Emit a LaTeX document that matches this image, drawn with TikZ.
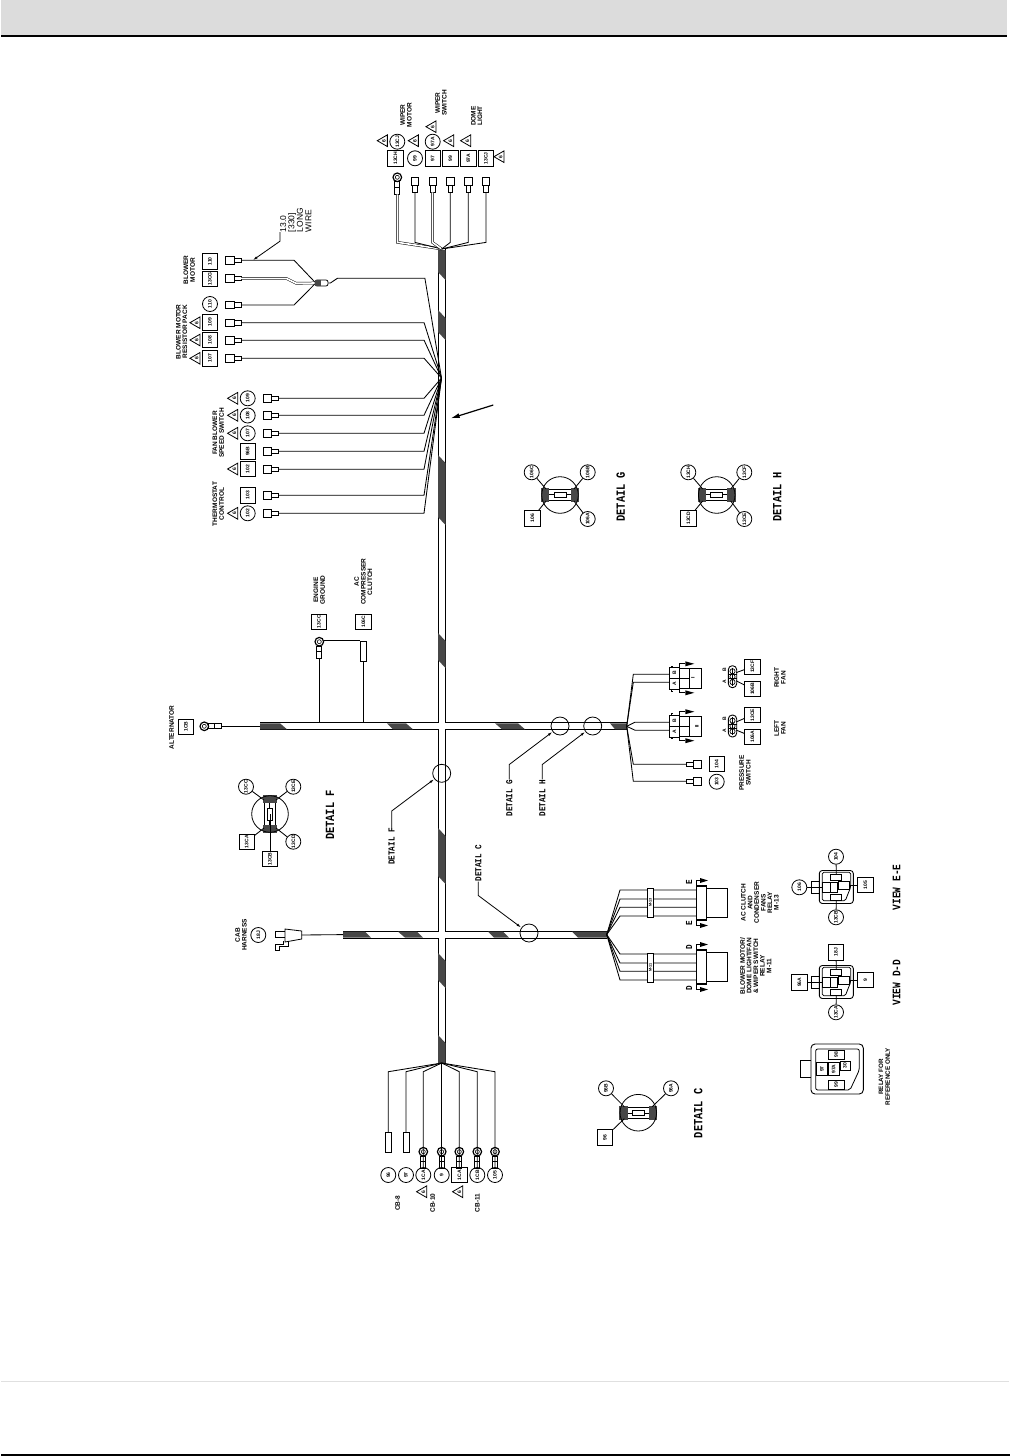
\documentclass[tikz,border=0pt]{standalone}
\usepackage{fontspec}
\usetikzlibrary{arrows.meta}
\usetikzlibrary{shapes.geometric}
\newfontfamily\cadfont{Liberation Sans}
\newfontfamily\detfam[FakeStretch=.83]{Liberation Mono}
\newcommand{\tagfont}{\cadfont\bfseries\fontsize{5}{5}\selectfont}
\newcommand{\lblfont}{\cadfont\bfseries\fontsize{6.5}{6.6}\selectfont}
\newcommand{\detfont}{\detfam\bfseries\fontsize{12.5}{12.5}\selectfont}
\newcommand{\leadfont}{\detfam\bfseries\fontsize{9.2}{9.2}\selectfont}
\newcommand{\viewfont}{\detfam\bfseries\fontsize{11.5}{11.5}\selectfont}
\definecolor{headgrey}{HTML}{DCDCDC}
\definecolor{footgrey}{HTML}{E0E0E0}
\tikzset{
    tag/.style={draw, rectangle, minimum size=15.5, inner sep=0, font=\tagfont, rotate=90, line width=.8},
    tagc/.style={draw, circle, minimum size=15, inner sep=0, font=\tagfont, rotate=90, line width=.8},
    warn/.style={draw, regular polygon, regular polygon sides=3, minimum size=13.5, inner sep=0, font=\cadfont\bfseries\fontsize{5}{5}\selectfont, rotate=90, line width=.8},
    lbl/.style={font=\lblfont, rotate=90, align=center, inner sep=0},
    detlbl/.style={font=\detfont, rotate=90, inner sep=0},
    leadlbl/.style={font=\leadfont, rotate=90, inner sep=0},
    tube/.style={draw, rectangle, minimum width=6, minimum height=20, inner sep=0, line width=.8},
    band/.style={draw, rectangle, minimum width=29, minimum height=6, inner sep=0, fill=white, font=\cadfont\bfseries\fontsize{3.8}{4}\selectfont, rotate=90, line width=.8},
    pinlbl/.style={font=\tagfont, rotate=90, inner sep=0},
    wire/.style={line width=.85},
    twinwire/.style={line width=.5, double, double distance=1.6},
    trunk/.style={line width=1, double, double distance=5.8},
    mesh/.style={fill=black!72},
    leader/.style={line width=.8, -{Latex[length=5pt,width=2.5pt]}},
    spade/.pic={
        \draw[line width=.8] (0,-3.6) rectangle (8.4,3.6);
        \draw[line width=.8] (8.4,-2.4) rectangle (15.4,2.4);
        \coordinate (-end) at (15.4,0);
    },
    ring/.pic={
        \draw[line width=1.2] (0,0) circle (4.3);
        \draw[line width=.6] (0,0) circle (2);
        \draw[line width=.8] (4.3,-2.5) rectangle (10,2.5);
        \draw[line width=.8] (10,-2.5) rectangle (17,2.5);
        \coordinate (-end) at (17,0);
    },
    core/.pic={
        \fill[mesh] (-19,-7) rectangle (-10.7,7);
        \fill[mesh] (10.7,-7) rectangle (19,7);
        \draw[line width=.8] (-10.7,-5.3) -- (10.7,-5.3);
        \draw[line width=.8] (-10.7,5.3) -- (10.7,5.3);
        \draw[line width=.5, double, double distance=1] (-10.7,0) -- (10.7,0);
        \draw[line width=1, fill=white] (-6,-2.6) rectangle (6,2.6);
        \coordinate (-c) at (0,0);
        \coordinate (-nw) at (-14,-6);
        \coordinate (-ne) at (14,-6);
        \coordinate (-sw) at (-14,6);
        \coordinate (-se) at (14,6);
    },
    fanplug/.pic={
        \draw[line width=.8] (0,-10.7) -- (10,-10.7) -- (10,10.7) -- (0,10.7) -- cycle;
        \draw[line width=.6] (1.5,-10.7) -- (1.5,-12.5) -- (3.5,-12.5) (1.5,10.7) -- (1.5,12.5) -- (3.5,12.5);
        \draw[line width=.8] (0,0) -- (20,0);
        \draw[line width=.8] (10,-10) rectangle (32.4,10);
        \draw[line width=.8] (20,-10) -- (20,10);
        \draw[line width=.8] (10,-10) -- (10,-14.5) -- (16,-14.5) (10,10) -- (10,14.5) -- (16,14.5);
        \fill (16,-17) -- (25,-14.5) -- (16,-12) -- cycle;
        \fill (16,17) -- (25,14.5) -- (16,12) -- cycle;
        \coordinate (-a) at (0,4);
        \coordinate (-b) at (0,-4);
    },
    fanpins/.pic={
        \draw[line width=.9, rounded corners=4] (-4.2,-11) rectangle (4.2,11);
        \draw[line width=.7] (0,-5.4) circle (2.6) (0,0) circle (2.6) (0,5.4) circle (2.6);
        \draw[line width=.6] (0,-9) -- (0,9) (-4,-2) -- (4,-2) (-4,2) -- (4,2);
        \coordinate (-up) at (3.5,-4);
        \coordinate (-dn) at (3.5,4);
    },
    relayplug/.pic={
        \draw[line width=.8] (0,-17) rectangle (10.7,17);
        \draw[line width=1.8] (0,-17) -- (10.7,-17) (0,17) -- (10.7,17);
        \draw[line width=.8] (10.7,-14.5) -- (31.3,-14.5) -- (31.3,14.5) -- (10.7,14.5);
        \draw[line width=.8] (0,-17) -- (0,-22.5) -- (4,-22.5) (0,17) -- (0,22.5) -- (4,22.5);
        \fill (4,-25) -- (12,-22.5) -- (4,-20) -- cycle;
        \fill (4,25) -- (12,22.5) -- (4,20) -- cycle;
        \coordinate (-w1) at (0,-13);
        \coordinate (-w2) at (0,-4);
        \coordinate (-w3) at (0,4.3);
        \coordinate (-w4) at (0,13);
    },
    relayview/.pic={
        \draw[line width=.9, rounded corners=3] (-17,-16.5) rectangle (17,16.5);
        \draw[line width=.8, rounded corners=1.5] (-14,-14.7) -- (14.4,-14.7) -- (14.4,0) -- (9,13.7) -- (-14,13.7) -- cycle;
        \draw[line width=.8] (-5.6,-12.7) rectangle (5.4,-7);
        \draw[line width=.8] (-13.6,-4.7) rectangle (-6.3,5.3);
        \draw[line width=.8] (-5.6,-4.7) rectangle (1,5.3);
        \draw[line width=.8] (2,-5.3) rectangle (12.7,2);
        \draw[line width=.8] (-5.6,7.3) rectangle (5.4,13);
        \draw[line width=.8] (-24.6,-5.3) rectangle (-17,6.3);
        \draw[line width=.8] (-24.6,.3) -- (-13.6,.3);
        \coordinate (-top) at (0,-12.7);
        \coordinate (-bot) at (0,13);
        \coordinate (-right) at (12.7,-2);
        \coordinate (-left) at (-24.6,.3);
    }
}
\begin{document}
\begin{tikzpicture}[x=1pt, y=-1pt]
        \useasboundingbox (0,0) rectangle (1010,1456);

        % page furniture
        \fill[headgrey] (1,0) rectangle (1007,35);
        \fill[black] (1,35) rectangle (1007,37.4);
        \fill[footgrey] (1,1380.8) rectangle (1009,1382);
        \fill[black] (1,1454) rectangle (1010,1456);

        % harness trunk and branches
        \coordinate (fan_top) at (441.7,249);
        \coordinate (fan_mid) at (441.5,378);
        \coordinate (fan_cb) at (441.7,1063);
        \coordinate (fan_right) at (626.7,726.3);
        \coordinate (fan_low) at (606.7,934.6);
        \coordinate (end_alt) at (260,726.3);
        \coordinate (end_cab) at (343,934.6);
        \draw[trunk] (fan_top) -- (fan_cb) (end_alt) -- (fan_right) (end_cab) -- (fan_low);

        \fill[mesh] (438,250) -- (445.5,250) -- (445.5,280) -- (438,272) -- cycle;
        \fill[mesh] (438,310) -- (445.5,318) -- (445.5,340) -- (438,332) -- cycle;
        \fill[mesh] (438,455) -- (445.5,463) -- (445.5,525) -- (438,517) -- cycle;
        \fill[mesh] (438,633) -- (445.5,641) -- (445.5,668) -- (438,660) -- cycle;
        \fill[mesh] (438,828) -- (445.5,836) -- (445.5,884) -- (438,876) -- cycle;
        \fill[mesh] (438,953) -- (445.5,961) -- (445.5,988) -- (438,980) -- cycle;
        \fill[mesh] (438,1035) -- (445.5,1043) -- (445.5,1063) -- (438,1063) -- cycle;

        \fill[mesh] (260,723.3) -- (280,723.3) -- (287,729.3) -- (260,729.3) -- cycle;
        \fill[mesh] (387,723.3) -- (406,723.3) -- (413,729.3) -- (393,729.3) -- cycle;
        \fill[mesh] (495,723.3) -- (518,723.3) -- (525,729.3) -- (502,729.3) -- cycle;
        \fill[mesh] (610,723.3) -- (627,723.3) -- (627,729.3) -- (615,729.3) -- cycle;
        \fill[mesh] (343,931.6) -- (365,931.6) -- (371,937.6) -- (343,937.6) -- cycle;
        \fill[mesh] (398,931.6) -- (417,931.6) -- (423,937.6) -- (405,937.6) -- cycle;
        \fill[mesh] (488,931.6) -- (503,931.6) -- (509,937.6) -- (494,937.6) -- cycle;
        \fill[mesh] (572,931.6) -- (607,931.6) -- (607,937.6) -- (578,937.6) -- cycle;

        % wiper and dome light
        \pic[rotate=-90] (t_13ch) at (397.3,177.3) {ring};
        \pic[rotate=-90] (t_99) at (415,177) {spade};
        \pic[rotate=-90] (t_97) at (432.5,177) {spade};
        \pic[rotate=-90] (t_99b) at (450.3,177) {spade};
        \pic[rotate=-90] (t_97a) at (468.3,177) {spade};
        \pic[rotate=-90] (t_13cj) at (486,177) {spade};
        \draw[twinwire] (t_13ch-end) -- ++(0,48) -- (fan_top);
        \draw[wire] (t_99-end) -- ++(0,50) -- (fan_top);
        \draw[twinwire] (t_97-end) -- ++(0,50) -- (fan_top);
        \draw[wire] (t_99b-end) -- ++(0,50) -- (fan_top);
        \draw[wire] (t_97a-end) -- ++(0,50) -- (fan_top);
        \draw[wire] (t_13cj-end) -- ++(0,50) -- (fan_top);

        \node[tag] (tag_13ch) at (395.3,158.3) {13CH};
        \node[tagc] (tag_99) at (415,158.3) {99};
        \node[tag] (tag_97) at (432.7,158.3) {97};
        \node[tag] (tag_99b) at (450.3,158.3) {99};
        \node[tag] (tag_97a) at (468.3,158.3) {97A};
        \node[tag] (tag_13cj) at (486,158.3) {13CJ};
        \node[tagc] (tag_13cjb) at (397.3,141.7) {13CJ};
        \node[tagc] (tag_97ab) at (432.7,141.7) {97A};
        \node[warn] (warn_1) at (384,140.7) {6};
        \node[warn] (warn_2) at (415,140.7) {6};
        \node[warn] (warn_3) at (432.7,126.7) {6};
        \node[warn] (warn_4) at (450.3,140.7) {6};
        \node[warn] (warn_5) at (467.3,140.7) {6};
        \node[warn] (warn_6) at (500.7,156.7) {6};
        \node[lbl] (lbl_wmotor) at (406,115) {WIPER\\MOTOR};
        \node[lbl] (lbl_wswitch) at (441,103) {WIPER\\SWITCH};
        \node[lbl] (lbl_dome) at (476.7,116) {DOME\\LIGHT};

        % blower motor
        \pic (t_110) at (225.7,260.3) {spade};
        \pic (t_13cg) at (225.7,278.3) {spade};
        \pic (t_110b) at (225.7,305) {spade};
        \pic (t_109) at (225.7,322.7) {spade};
        \pic (t_108) at (225.7,340.3) {spade};
        \pic (t_107) at (225.7,358.3) {spade};
        \node[draw, rectangle, minimum width=13, minimum height=6, inner sep=0, fill=white, rounded corners=2, line width=.8] (splice) at (321.5,283) {};
        \fill[mesh] (315,280) rectangle (321,286);
        \draw[wire] (t_110-end) -- ++(53,0) -- (splice.170);
        \draw[twinwire] (t_13cg-end) -- ++(45,0) -- ++(10,5) -- (splice.west);
        \draw[wire] (t_110b-end) -- ++(53,0) -- (splice.190);
        \draw[wire] (splice.east) -- ++(2,0) -- ++(7,-4.7) -- ++(87.5,0) -- (fan_mid);
        \draw[wire] (t_109-end) -- ++(183,0) -- (fan_mid);
        \draw[wire] (t_108-end) -- ++(183,0) -- (fan_mid);
        \draw[wire] (t_107-end) -- ++(183,0) -- (fan_mid);

        \node[tag] (tag_110) at (210,261.3) {110};
        \node[tag] (tag_13cg) at (210,279) {13CG};
        \node[tagc] (tag_110b) at (210,304) {110};
        \node[tag] (tag_109) at (210,322.3) {109};
        \node[tag] (tag_108) at (210,340) {108};
        \node[tag] (tag_107) at (210,358.3) {107};
        \node[warn] (warn_7) at (196.7,322.7) {6};
        \node[warn] (warn_8) at (196.7,340) {6};
        \node[warn] (warn_9) at (196.7,358.3) {6};
        \node[lbl] (lbl_blower) at (189.3,270) {BLOWER\\MOTOR};
        \node[lbl] (lbl_resistor) at (181.7,331.7) {BLOWER MOTOR\\RESISTOR PACK};

        \node[font=\cadfont\fontsize{8.5}{8.4}\selectfont, rotate=90, align=left, inner sep=0] (lbl_long) at (295.7,220) {13.0\\{[330]}\\LONG\\WIRE};
        \coordinate (long_tip) at (252.7,260.3);
        \draw[leader] (lbl_long.north west) -- ++(0,9) -- (long_tip);

        % fan blower switch and thermostat
        \pic (t_s109) at (263.3,398.3) {spade};
        \pic (t_s108) at (263.3,415.3) {spade};
        \pic (t_s107) at (263.3,433.3) {spade};
        \pic (t_s96b) at (263.3,451.3) {spade};
        \pic (t_s102) at (263.3,469.3) {spade};
        \pic (t_s103) at (263.3,495.3) {spade};
        \pic (t_s102b) at (263.3,513.3) {spade};
        \draw[wire] (t_s109-end) -- ++(145.3,0) -- (fan_mid);
        \draw[wire] (t_s108-end) -- ++(145.3,0) -- (fan_mid);
        \draw[wire] (t_s107-end) -- ++(145.3,0) -- (fan_mid);
        \draw[wire] (t_s96b-end) -- ++(145.3,0) -- (fan_mid);
        \draw[wire] (t_s102-end) -- ++(145.3,0) -- (fan_mid);
        \draw[wire] (t_s103-end) -- ++(145.3,0) -- (fan_mid);
        \draw[wire] (t_s102b-end) -- ++(145.3,0) -- (fan_mid);

        \node[tagc] (tag_s109) at (247.7,398.3) {109};
        \node[tagc] (tag_s108) at (247.7,415.5) {108};
        \node[tagc] (tag_s107) at (247.7,433.3) {107};
        \node[tag] (tag_s96b) at (247.7,451.3) {96B};
        \node[tag] (tag_s102) at (247.7,469) {102};
        \node[tag] (tag_s103) at (247.7,495.3) {103};
        \node[tagc] (tag_s102b) at (247.7,513.3) {102};
        \node[warn] (warn_10) at (234.3,398.3) {6};
        \node[warn] (warn_11) at (234.3,415.3) {6};
        \node[warn] (warn_12) at (234.3,433.3) {6};
        \node[warn] (warn_13) at (234.3,469) {6};
        \node[warn] (warn_14) at (234.3,513.3) {6};
        \node[lbl] (lbl_fan) at (218.3,433) {FAN BLOWER\\SPEED SWITCH};
        \node[lbl] (lbl_thermo) at (218.3,504) {THERMOSTAT\\CONTROL};

        \coordinate (ptr_tail) at (493.3,405);
        \coordinate (ptr_tip) at (450.7,418.3);
        \draw[-{Latex[length=9pt,width=5pt]}, line width=1.2] (ptr_tail) -- (ptr_tip);

        % engine ground, ac clutch, alternator
        \coordinate (top_edge) at (260,723.4);
        \pic[rotate=-90] (t_13cc) at (319.3,641.7) {ring};
        \node[tube] (tube_106c) at (363.3,651) {};
        \draw[wire] (t_13cc-end) -- (t_13cc-end |- top_edge);
        \draw[wire] (tube_106c.south) -- (tube_106c.south |- top_edge);
        \draw[line width=.5] (t_13cc-end |- tube_106c.north) ++(5,0) -- (tube_106c.north west);
        \node[tag] (tag_13cc) at (319,621.7) {13CC};
        \node[tag] (tag_106c) at (363.3,621.7) {106C};
        \node[lbl] (lbl_engine) at (319.3,590) {ENGINE\\GROUND};
        \node[lbl] (lbl_clutch) at (363.3,581.7) {AC\\COMPRESSER\\CLUTCH};

        \pic (t_1cb) at (204.3,726.3) {ring};
        \draw[wire] (t_1cb-end) -- (end_alt);
        \node[tag] (tag_1cb) at (186,726.7) {1CB};
        \node[lbl] (lbl_alt) at (171.7,727.3) {ALTERNATOR};

        % cab harness
        \coordinate (cab_end) at (301.7,935);
        \draw[line width=.8] (cab_end) ++(0,-4) -- ++(-16.7,-2) -- ++(0,13) -- ++(16.7,-3) -- cycle;
        \draw[line width=.8] (285,931.7) -- (275,931.7) -- (275,937.5) -- (285,937.5);
        \draw[line width=.8] (288,941) -- (288,946.5) -- (279,946.5) -- (279,950) -- (275,950) -- (275,944) -- (283,944) -- (283,941);
        \draw[wire] (cab_end) -- (end_cab);
        \node[tagc] (tag_18j) at (258.3,935) {18J};
        \node[lbl] (lbl_cab) at (241,935) {CAB\\HARNESS};

        % detail f
        \pic[rotate=90] (core_f) at (270,814) {core};
        \draw[line width=.8] (270,814) circle (18.3);
        \node[tagc] (tag_13cc_f) at (246,786.7) {13CC};
        \node[tagc] (tag_13ce_f) at (293.3,786.7) {13CE};
        \node[tag] (tag_13ca_f) at (246.7,841.7) {13CA};
        \node[tagc] (tag_13cd_f) at (293.3,841.7) {13CD};
        \node[tag] (tag_13cb_f) at (270,859) {13CB};
        \draw[wire] (tag_13cc_f) -- (core_f-ne);
        \draw[wire] (tag_13ce_f) -- (core_f-se);
        \draw[wire] (tag_13ca_f) -- (core_f-nw);
        \draw[wire] (tag_13cd_f) -- (core_f-sw);
        \draw[wire] (tag_13cb_f) -- (core_f-c);
        \node[detlbl] (lbl_det_f) at (330,815) {DETAIL F};

        % detail g and h
        \pic (core_g) at (560,495) {core};
        \draw[line width=.8] (560,495) circle (18.3);
        \node[tagc] (tag_106c_g) at (531.7,472.3) {106C};
        \node[tagc] (tag_106b_g) at (587.7,472.3) {106B};
        \node[tag] (tag_106_g) at (532.3,518.3) {106};
        \node[tagc] (tag_106a_g) at (587.7,519) {106A};
        \draw[wire] (tag_106c_g) -- (core_g-nw);
        \draw[wire] (tag_106b_g) -- (core_g-ne);
        \draw[wire] (tag_106_g) -- (core_g-sw);
        \draw[wire] (tag_106a_g) -- (core_g-se);
        \node[detlbl] (lbl_det_g) at (620.7,496.7) {DETAIL G};

        \pic (core_h) at (716.7,495) {core};
        \draw[line width=.8] (716.7,495) circle (18.3);
        \node[tagc] (tag_13ch_h) at (688.3,472.3) {13CH};
        \node[tagc] (tag_13cf_h) at (744.3,472.3) {13CF};
        \node[tag] (tag_13cd_h) at (688.3,518.3) {13CD};
        \node[tagc] (tag_13ce_h) at (744.3,519) {13CE};
        \draw[wire] (tag_13ch_h) -- (core_h-nw);
        \draw[wire] (tag_13cf_h) -- (core_h-ne);
        \draw[wire] (tag_13cd_h) -- (core_h-sw);
        \draw[wire] (tag_13ce_h) -- (core_h-se);
        \node[detlbl] (lbl_det_h) at (777.3,496.7) {DETAIL H};

        % detail c
        \pic (core_c) at (638.3,1112.7) {core};
        \draw[line width=.8] (638.3,1112.7) circle (18.3);
        \node[tagc] (tag_96b_c) at (606,1088.3) {96B};
        \node[tagc] (tag_96a_c) at (671,1088.3) {96A};
        \node[tag] (tag_96_c) at (605,1137.3) {96};
        \draw[wire] (tag_96b_c) -- (core_c-nw);
        \draw[wire] (tag_96a_c) -- (core_c-ne);
        \draw[wire] (tag_96_c) -- (core_c-sw);
        \node[detlbl] (lbl_det_c) at (698.3,1113.3) {DETAIL C};

        % callouts on the harness
        \node[draw, circle, minimum size=18, inner sep=0, line width=.8] (cir_f) at (441.7,773.3) {};
        \node[draw, circle, minimum size=18, inner sep=0, line width=.8] (cir_c) at (529,933) {};
        \node[draw, circle, minimum size=18, inner sep=0, line width=.8] (cir_g) at (560,726) {};
        \node[draw, circle, minimum size=18, inner sep=0, line width=.8] (cir_h) at (592.7,726) {};
        \node[leadlbl] (lead_f) at (391.7,846.5) {DETAIL F};
        \node[leadlbl] (lead_c) at (478.3,863) {DETAIL C};
        \node[leadlbl] (lead_g) at (509.3,798) {DETAIL G};
        \node[leadlbl] (lead_h) at (542.3,798) {DETAIL H};
        \draw[leader] (lead_f.east) -- ++(0,-17) -- (cir_f.218);
        \draw[leader] (lead_c.west) -- ++(0,14) -- (cir_c.145);
        \draw[leader] (lead_g.east) -- ++(0,-15) -- (cir_g.218);
        \draw[leader] (lead_h.east) -- ++(0,-15) -- (cir_h.218);

        % fans and pressure switch
        \pic (plug_left) at (669.3,726.2) {fanplug};
        \pic (plug_right) at (669.3,678.3) {fanplug};
        \node[pinlbl] (pin_a1) at (674.5,731.3) {A};
        \node[pinlbl] (pin_b1) at (674.5,721) {B};
        \node[pinlbl] (pin_a2) at (674.5,683.3) {A};
        \node[pinlbl] (pin_b2) at (674.5,673) {B};
        \node[pinlbl] (mark_left) at (697,726.2) {II};
        \node[pinlbl] (mark_right) at (693,677.7) {I};
        \draw[wire] (plug_left-b) -- ++(-34.3,0) -- (fan_right);
        \draw[wire] (plug_left-a) -- ++(-34.3,0) -- (fan_right);
        \draw[wire] (plug_right-b) -- ++(-36,0) -- (fan_right);
        \draw[wire] (plug_right-a) -- ++(-36,0) -- (fan_right);
        \pic[rotate=180] (t_104) at (701.7,764.3) {spade};
        \pic[rotate=180] (t_103) at (701.7,781.3) {spade};
        \draw[wire] (t_104-end) -- ++(-53,0) -- (fan_right);
        \draw[wire] (t_103-end) -- ++(-53,0) -- (fan_right);
        \node[tag] (tag_104) at (716.7,764) {104};
        \node[tagc] (tag_103) at (716.7,781.7) {103};
        \node[lbl] (lbl_press) at (745,773) {PRESSURE\\SWITCH};

        \pic (pins_left) at (732.5,726) {fanpins};
        \pic (pins_right) at (732.5,676.7) {fanpins};
        \node[pinlbl] (pin_a3) at (724.3,731) {A};
        \node[pinlbl] (pin_b3) at (724.3,719) {B};
        \node[pinlbl] (pin_a4) at (724.3,681.7) {A};
        \node[pinlbl] (pin_b4) at (724.3,669.7) {B};
        \node[tag] (tag_13ce) at (752.3,715) {13CE};
        \node[tag] (tag_106a) at (752.3,736.7) {106A};
        \node[tag] (tag_13cf) at (752.3,666.7) {13CF};
        \node[tag] (tag_106b) at (752.3,689) {106B};
        \draw[wire] (tag_13ce) -- (pins_left-up);
        \draw[wire] (tag_106a) -- (pins_left-dn);
        \draw[wire] (tag_13cf) -- (pins_right-up);
        \draw[wire] (tag_106b) -- (pins_right-dn);
        \node[lbl] (lbl_left) at (780,728.3) {LEFT\\FAN};
        \node[lbl] (lbl_right) at (780,677.7) {RIGHT\\FAN};

        % relay connectors
        \pic (plug_e) at (696,903) {relayplug};
        \pic (plug_d) at (696,967) {relayplug};
        \draw[wire] (plug_e-w1) -- ++(-76,0) -- (fan_low);
        \draw[wire] (plug_e-w2) -- ++(-76,0) -- (fan_low);
        \draw[wire] (plug_e-w3) -- ++(-76,0) -- (fan_low);
        \draw[wire] (plug_e-w4) -- ++(-76,0) -- (fan_low);
        \draw[wire] (plug_d-w1) -- ++(-76,0) -- (fan_low);
        \draw[wire] (plug_d-w2) -- ++(-76,0) -- (fan_low);
        \draw[wire] (plug_d-w3) -- ++(-76,0) -- (fan_low);
        \draw[wire] (plug_d-w4) -- ++(-76,0) -- (fan_low);
        \node[band] (band_m13) at (650.3,902.4) {M-13};
        \node[band] (band_m11) at (650.3,967.5) {M-11};
        \node[leadlbl] (let_e1) at (689,881.7) {E};
        \node[leadlbl] (let_e2) at (689,923.3) {E};
        \node[leadlbl] (let_d1) at (689,946.7) {D};
        \node[leadlbl] (let_d2) at (689,988.3) {D};
        \node[lbl] (lbl_acrelay) at (760,902.7) {AC CLUTCH\\AND\\CONDENSER\\FANS\\RELAY\\M-13};
        \node[lbl] (lbl_blrelay) at (755.7,966) {BLOWER MOTOR/\\DOME LIGHT/FAN\\\& WIPER SWITCH\\RELAY\\M-11};

        % relay views
        \pic (view_e) at (836.3,887) {relayview};
        \node[tagc] (tag_106_e) at (799.3,887.3) {106};
        \node[tagc] (tag_104_e) at (836,856.7) {104};
        \node[tag] (tag_105_e) at (865.5,885) {105};
        \node[tagc] (tag_13cb_e) at (836,917.3) {13CB};
        \draw[wire] (tag_106_e) -- (view_e-left);
        \draw[wire] (tag_104_e) -- (view_e-top);
        \draw[wire] (tag_105_e) -- (view_e-right);
        \draw[wire] (tag_13cb_e) -- (view_e-bot);
        \node[detlbl, font=\viewfont] (lbl_view_e) at (896.7,887.3) {VIEW E-E};

        \pic (view_d) at (836.3,982) {relayview};
        \node[tag] (tag_96a_d) at (799.3,982.3) {96A};
        \node[tag] (tag_18j_d) at (836,952.3) {18J};
        \node[tag] (tag_9_d) at (865.5,980) {9};
        \node[tagc] (tag_13ca_d) at (836,1012.3) {13CA};
        \draw[wire] (tag_96a_d) -- (view_d-left);
        \draw[wire] (tag_18j_d) -- (view_d-top);
        \draw[wire] (tag_9_d) -- (view_d-right);
        \draw[wire] (tag_13ca_d) -- (view_d-bot);
        \node[detlbl, font=\viewfont] (lbl_view_d) at (896.7,982.7) {VIEW D-D};

        % relay for reference
        \draw[line width=.9, rounded corners=4] (811,1044) rectangle (863.3,1094);
        \draw[line width=.8, rounded corners=2] (815.7,1049) -- (859.3,1049) -- (859.3,1070) -- (850,1090) -- (815.7,1090) -- cycle;
        \draw[line width=.8] (811,1060) -- (800.7,1060) -- (800.7,1077.7) -- (811,1077.7);
        \node[draw, minimum width=9, minimum height=15.5, inner sep=0, font=\tagfont, rotate=90, line width=.8] (pin_98) at (836.2,1054.5) {98};
        \node[draw, minimum width=13.4, minimum height=10.6, inner sep=0, font=\tagfont, rotate=90, line width=.8] (pin_97) at (822,1069) {97};
        \node[draw, minimum width=13.4, minimum height=10.6, inner sep=0, font=\tagfont, rotate=90, line width=.8] (pin_97a) at (833.7,1069) {97A};
        \node[draw, minimum width=9, minimum height=10, inner sep=0, font=\tagfont, rotate=90, line width=.8] (pin_30) at (845,1065.5) {30};
        \node[draw, minimum width=9, minimum height=15.5, inner sep=0, font=\tagfont, rotate=90, line width=.8] (pin_99) at (836.2,1084.5) {99};
        \node[lbl, font=\cadfont\bfseries\fontsize{6.3}{6.6}\selectfont] (lbl_relay) at (884.3,1076.7) {RELAY FOR\\REFERENCE ONLY};

        % circuit breakers
        \coordinate (cb_drop) at (441.7,1071.7);
        \node[tube] (tube_96) at (388.3,1142.3) {};
        \node[tube] (tube_97) at (406,1142.3) {};
        \pic[rotate=-90] (r_1ca) at (423.3,1151.7) {ring};
        \pic[rotate=-90] (r_9) at (441.7,1151.7) {ring};
        \pic[rotate=-90] (r_1cab) at (459.3,1151.7) {ring};
        \pic[rotate=-90] (r_1cb) at (477.3,1151.7) {ring};
        \pic[rotate=-90] (r_105) at (495,1151.7) {ring};
        \draw[wire] (tube_96.north) -- (tube_96.north |- cb_drop) -- (fan_cb);
        \draw[wire] (tube_97.north) -- (tube_97.north |- cb_drop) -- (fan_cb);
        \draw[wire] (r_1ca-end) -- (r_1ca-end |- cb_drop) -- (fan_cb);
        \draw[wire] (r_9-end) -- (fan_cb);
        \draw[wire] (r_1cab-end) -- (r_1cab-end |- cb_drop) -- (fan_cb);
        \draw[wire] (r_1cb-end) -- (r_1cb-end |- cb_drop) -- (fan_cb);
        \draw[wire] (r_105-end) -- (r_105-end |- cb_drop) -- (fan_cb);

        \node[tagc] (tag_96) at (388.3,1175) {96};
        \node[tagc] (tag_97c) at (406,1175) {97};
        \node[tagc] (tag_1ca) at (423.3,1175) {1CA};
        \node[tagc] (tag_9) at (441.7,1175) {9};
        \node[tag] (tag_1cab) at (459.3,1175) {1CA};
        \node[tagc] (tag_1cb_c) at (477.3,1175) {1CB};
        \node[tagc] (tag_105) at (495,1175) {105};
        \node[warn] (warn_15) at (423.3,1191.7) {6};
        \node[warn] (warn_16) at (459.3,1191.7) {6};
        \node[lbl] (lbl_cb8) at (397.7,1203.3) {CB-8};
        \node[lbl] (lbl_cb10) at (432.7,1203) {CB-10};
        \node[lbl] (lbl_cb11) at (477.3,1203) {CB-11};
\end{tikzpicture}
\end{document}
